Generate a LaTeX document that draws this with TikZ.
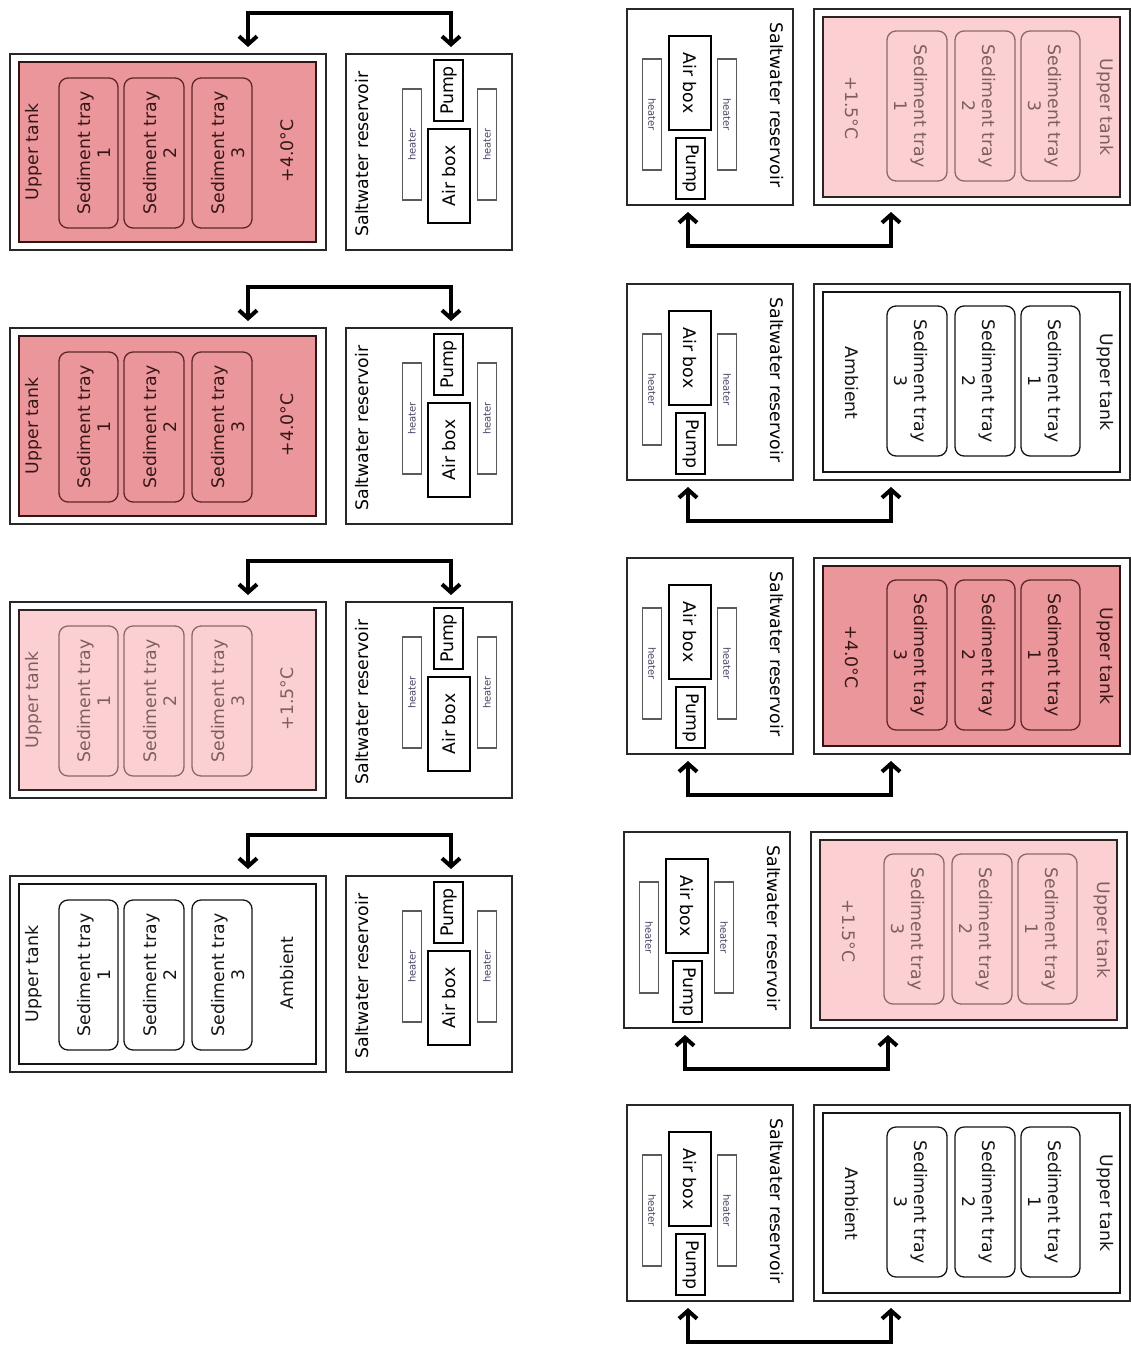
\documentclass[tikz,border=0pt]{standalone}
\usepackage{fontspec}
\setmainfont{DejaVu Sans}
\usetikzlibrary{arrows.meta}
\definecolor{hotfill}{RGB}{234,150,155}
\definecolor{warmfill}{RGB}{252,208,210}
\definecolor{hottext}{RGB}{55,22,22}
\definecolor{warmtext}{RGB}{125,95,95}
\definecolor{hottray}{RGB}{95,38,38}
\definecolor{warmtray}{RGB}{140,105,105}
\definecolor{hotinner}{RGB}{50,20,20}
\definecolor{warminner}{RGB}{45,35,35}
\definecolor{ambtext}{RGB}{20,20,20}
\definecolor{outerc}{RGB}{40,40,40}
\definecolor{heaterc}{RGB}{90,90,90}
\definecolor{heatertextc}{RGB}{70,70,100}
\tikzset{
  outerbox/.style={rectangle, draw=outerc, line width=2pt, inner sep=0pt, outer sep=0pt},
  innerbox/.style={rectangle, line width=2.5pt, inner sep=0pt, outer sep=0pt},
  traybox/.style={rectangle, rounded corners=9pt, line width=1.3pt, inner sep=0pt, minimum width=59pt, minimum height=150pt},
  lbl/.style={font=\fontsize{17.3}{20}\selectfont, rotate=90, align=center, inner sep=0pt},
  heaterbox/.style={rectangle, draw=heaterc, line width=1.3pt, fill=white, minimum width=19pt, minimum height=111pt, inner sep=0pt},
  heatertxt/.style={font=\fontsize{10}{10}\selectfont, text=heatertextc, rotate=90, inner sep=0pt},
  partbox/.style={rectangle, draw=black, line width=2pt, inner sep=0pt},
  flow/.style={line width=4pt, {Straight Barb[length=8pt,width=18pt]}-{Straight Barb[length=8pt,width=18pt]}},
}
% #1 prefix, #2 fill, #3 text colour, #4 tray border, #5 inner border, #6 temperature label, #7-#9 tray numbers
\newcommand\drawunit[9]{%
  \node[outerbox, minimum width=316pt, minimum height=196pt] (#1-tank) at (167.5,98) {};
  \node[innerbox, draw=#5, fill=#2, minimum width=297pt, minimum height=180pt] (#1-inner) at (167.5,98) {};
  \node[lbl, text=#3] (#1-utl) at (34,98) {Upper tank};
  \node[traybox, draw=#4] (#1-tr1) at (88.5,99) {};
  \node[traybox, draw=#4, minimum width=60pt] (#1-tr2) at (154,99) {};
  \node[traybox, draw=#4, minimum width=60pt] (#1-tr3) at (222,99) {};
  \node[lbl, text=#3] (#1-tl1) at (94,99) {Sediment tray\\#7};
  \node[lbl, text=#3] (#1-tl2) at (160,99) {Sediment tray\\#8};
  \node[lbl, text=#3] (#1-tl3) at (228,99) {Sediment tray\\#9};
  \node[lbl, text=#3] (#1-temp) at (287,97) {#6};
  \node[outerbox, minimum width=166pt, minimum height=196pt] (#1-res) at (429,98) {};
  \node[lbl] (#1-rl) at (362,100) {Saltwater reservoir};
  \node[heaterbox] (#1-h1) at (412,90.5) {};
  \node[heaterbox] (#1-h2) at (487,90.5) {};
  \node[heatertxt] (#1-ht1) at (412,90.5) {heater};
  \node[heatertxt] (#1-ht2) at (487,90.5) {heater};
  \node[partbox, minimum width=29pt, minimum height=61pt] (#1-pump) at (448.5,36.5) {};
  \node[lbl] (#1-pl) at (448.5,36.5) {Pump};
  \node[partbox, minimum width=42pt, minimum height=94pt] (#1-air) at (449,122) {};
  \node[lbl] (#1-al) at (449,122) {Air box};
  \coordinate (#1-a1) at (248,-7);
  \coordinate (#1-a2) at (451,-7);
  \coordinate (#1-c1) at (248,-41);
  \draw[flow] (#1-a1) -- (#1-c1) -| (#1-a2);
}
\begin{document}
\begin{tikzpicture}[x=1pt, y=-1pt, every node/.append style={transform shape}]
\useasboundingbox (0,0) rectangle (1131,1347);
\fill[white] (0,0) rectangle (1131,1347);
% left column
\begin{scope}[shift={(0,54)}]
  \drawunit{L1}{hotfill}{hottext}{hottray}{hotinner}{+4.0°C}{1}{2}{3}
\end{scope}
\begin{scope}[shift={(0,328)}]
  \drawunit{L2}{hotfill}{hottext}{hottray}{hotinner}{+4.0°C}{1}{2}{3}
\end{scope}
\begin{scope}[shift={(0,602)}]
  \drawunit{L3}{warmfill}{warmtext}{warmtray}{warminner}{+1.5°C}{1}{2}{3}
\end{scope}
\begin{scope}[shift={(0,876)}]
  \drawunit{L4}{white}{ambtext}{ambtext}{ambtext}{Ambient}{1}{2}{3}
\end{scope}
% right column
\begin{scope}[shift={(1139,205)}, rotate=180]
  \drawunit{R1}{warmfill}{warmtext}{warmtray}{warminner}{+1.5°C}{3}{2}{1}
\end{scope}
\begin{scope}[shift={(1139,480)}, rotate=180]
  \drawunit{R2}{white}{ambtext}{ambtext}{ambtext}{Ambient}{1}{2}{3}
\end{scope}
\begin{scope}[shift={(1139,754)}, rotate=180]
  \drawunit{R3}{hotfill}{hottext}{hottray}{hotinner}{+4.0°C}{1}{2}{3}
\end{scope}
\begin{scope}[shift={(1136,1028)}, rotate=180]
  \drawunit{R4}{warmfill}{warmtext}{warmtray}{warminner}{+1.5°C}{1}{2}{3}
\end{scope}
\begin{scope}[shift={(1139,1301)}, rotate=180]
  \drawunit{R5}{white}{ambtext}{ambtext}{ambtext}{Ambient}{1}{2}{3}
\end{scope}
\end{tikzpicture}
\end{document}
